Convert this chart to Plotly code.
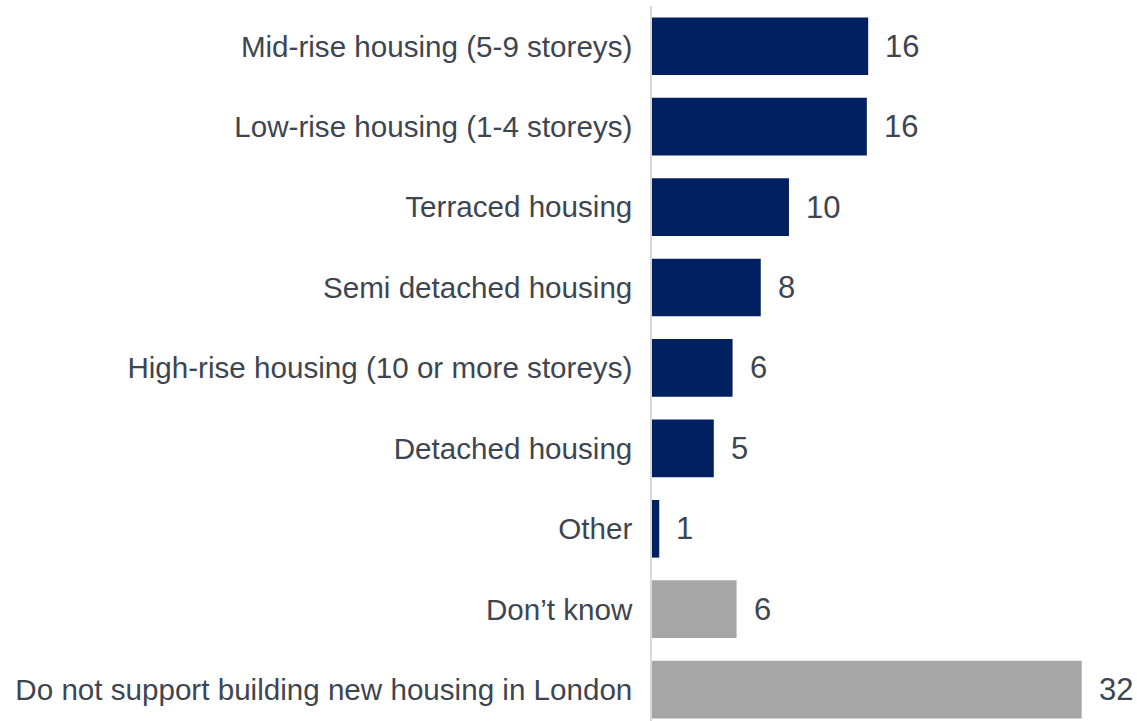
import plotly.graph_objects as go

categories = [
    "Mid-rise housing (5-9 storeys)",
    "Low-rise housing (1-4 storeys)",
    "Terraced housing",
    "Semi detached housing",
    "High-rise housing (10 or more storeys)",
    "Detached housing",
    "Other",
    "Don\u2019t know",
    "Do not support building new housing in London",
]
values = [16.1, 16.0, 10.2, 8.1, 6.0, 4.6, 0.54, 6.3, 32.0]
groups = ["support"] * 7 + ["other"] * 2

NAVY = "#002060"
GREY = "#A6A6A6"
TEXT = "#3D4650"
FONT = "Liberation Sans, Arial, sans-serif"

colors = [NAVY if g == "support" else GREY for g in groups]

fig = go.Figure(
    go.Bar(
        x=values,
        y=categories,
        orientation="h",
        marker=dict(color=colors, line=dict(width=0)),
        hoverinfo="skip",
    )
)

for c, v in zip(categories, values):
    fig.add_annotation(
        x=v, y=c, xref="x", yref="y",
        text=f"{v:.0f}",
        showarrow=False,
        xanchor="left",
        xshift=15,
        font=dict(family=FONT, size=31, color=TEXT),
    )

fig.update_layout(
    width=1137,
    height=721,
    margin=dict(l=652, r=0, t=6, b=0),
    paper_bgcolor="white",
    plot_bgcolor="white",
    bargap=0.283,
    showlegend=False,
    xaxis=dict(
        range=[0, 36.12],
        showgrid=False,
        zeroline=False,
        showline=False,
        showticklabels=False,
        ticks="",
    ),
    yaxis=dict(
        type="category",
        categoryorder="array",
        categoryarray=categories,
        range=[8.39, -0.5],
        showgrid=False,
        zeroline=False,
        showline=True,
        linecolor="#D9D9D9",
        linewidth=1.5,
        ticks="",
        ticklabelstandoff=12,
        tickfont=dict(family=FONT, size=29.6, color=TEXT),
    ),
)

fig.write_html(
    "out.html",
    config={"displayModeBar": False},
    post_script="document.body.style.margin='0';document.body.style.overflow='hidden';",
)
